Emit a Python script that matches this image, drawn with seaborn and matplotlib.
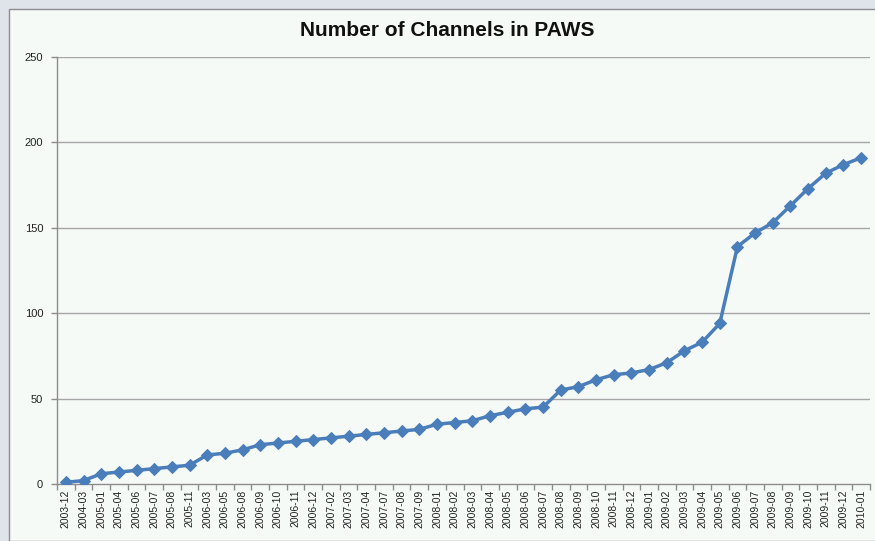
import matplotlib
matplotlib.use("Agg")
import matplotlib.pyplot as plt
import seaborn as sns
import pandas as pd
from matplotlib.patches import Rectangle

months = ["2003-12", "2004-03", "2005-01", "2005-04", "2005-06", "2005-07", "2005-08", "2005-11",
          "2006-03", "2006-05", "2006-08", "2006-09", "2006-10", "2006-11", "2006-12",
          "2007-02", "2007-03", "2007-04", "2007-07", "2007-08", "2007-09",
          "2008-01", "2008-02", "2008-03", "2008-04", "2008-05", "2008-06", "2008-07", "2008-08",
          "2008-09", "2008-10", "2008-11", "2008-12",
          "2009-01", "2009-02", "2009-03", "2009-04", "2009-05", "2009-06", "2009-07", "2009-08",
          "2009-09", "2009-10", "2009-11", "2009-12", "2010-01"]
channels = [1, 2, 6, 7, 8, 9, 10, 11,
            17, 18, 20, 23, 24, 25, 26,
            27, 28, 29, 30, 31, 32,
            35, 36, 37, 40, 42, 44, 45, 55,
            57, 61, 64, 65,
            67, 71, 78, 83, 94, 139, 147, 153,
            163, 173, 182, 187, 191]
yticks = [0, 50, 100, 150, 200, 250]
title = "Number of Channels in PAWS"

df = pd.DataFrame({"month": months, "channels": channels, "pos": range(len(months))})

sns.set_theme(style="white")
plt.rcParams['font.family'] = ['Liberation Sans', 'DejaVu Sans']

W, H = 875, 541
fig = plt.figure(figsize=(W / 100, H / 100), dpi=100)
fig.patch.set_facecolor("#dfe4ea")
# chart area frame
frame = Rectangle((9 / W, 0), 1, 1 - 9 / H, transform=fig.transFigure,
                  facecolor="#f6faf7", edgecolor="#8c8c8c", linewidth=1.0, zorder=-10)
fig.patches.append(frame)

ax = fig.add_axes([57 / W, (H - 484) / H, (870 - 57) / W, (484 - 57) / H])
ax.set_zorder(5)
ax.set_facecolor("#f6faf7")

sns.lineplot(data=df, x="pos", y="channels", ax=ax, color="#4a7ebb", linewidth=2.5,
             marker="D", markersize=6, markeredgecolor="#4a7ebb", zorder=3)

n = len(months)
ax.set_xlim(-0.5, n - 0.5)
ax.set_ylim(0, 250)
ax.set_yticks(yticks)
ax.set_yticklabels([str(v) for v in yticks], fontsize=8, color="#222222")
ax.set_xticks(range(n))
ax.set_xticklabels(months, rotation=90, fontsize=7.5, color="#222222")
ax.set_xticks([i - 0.5 for i in range(n + 1)], minor=True)
ax.tick_params(axis="x", which="major", length=0, pad=4)
ax.tick_params(axis="x", which="minor", length=4, color="#8c8c8c", width=1, direction="out")
ax.tick_params(axis="y", length=4, color="#8c8c8c", width=1, direction="out", pad=6)
ax.xaxis.set_tick_params(bottom=True, which="both")
ax.yaxis.set_tick_params(left=True)

for v in yticks[1:]:
    ax.axhline(v, color="#a6a6a6", linewidth=1.0, zorder=1)

for s in ["top", "right"]:
    ax.spines[s].set_visible(False)
ax.spines["left"].set_color("#8c8c8c")
ax.spines["bottom"].set_color("#8c8c8c")
ax.spines["left"].set_linewidth(1.0)
ax.spines["bottom"].set_linewidth(1.0)
ax.set_xlabel("")
ax.set_ylabel("")

fig.text(447 / W, 1 - 31 / H, title, ha="center", va="center", fontsize=15,
         fontweight="bold", color="#111111", zorder=6)

fig.savefig("out.png", dpi=100)
